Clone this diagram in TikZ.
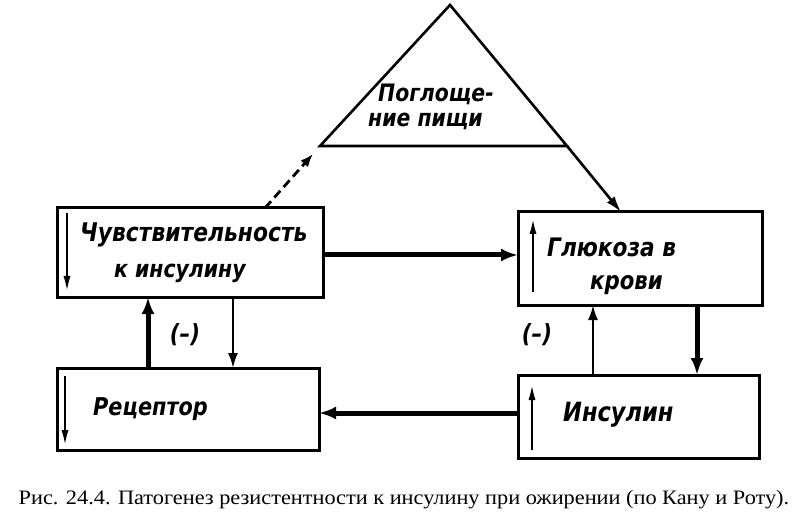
\documentclass[tikz,border=0pt]{standalone}
\usepackage{fontspec}
\setmainfont{Liberation Serif}
\newfontfamily\hand[FakeStretch=0.85]{DejaVu Sans}
\usetikzlibrary{arrows.meta}
\begin{document}
\begin{tikzpicture}[x=1pt,y=-1pt,
  box/.style={draw,line width=3pt,minimum width=#1,inner sep=0pt,outer sep=0pt},
  lbl/.style={font=\hand\bfseries\itshape\fontsize{#1}{26}\selectfont,inner sep=0pt,align=center},
  lbl/.default=24.5,
  thickarr/.style={line width=5pt,-{Latex[length=17pt,width=13pt]}},
  thinarr/.style={line width=2.2pt,-{Latex[length=15pt,width=10pt]}},
  innerarr/.style={line width=2.6pt,-{Latex[length=17pt,width=7pt]}},
  minus/.style={font=\hand\bfseries\itshape\fontsize{25}{26}\selectfont,inner sep=0pt}]
\useasboundingbox (0,0) rectangle (800,529);
% boxes
\node[box=266pt,minimum height=89pt] (sens) at (190,252.5) {};
\node[box=262pt,minimum height=82pt] (rec) at (188,409) {};
\node[box=244pt,minimum height=93pt] (glu) at (640,258.5) {};
\node[box=241pt,minimum height=83pt] (ins) at (638.5,416.5) {};
% texts
\node[lbl=25.7,anchor=base west] (tsens) at (80,242) {Чувствительность};
\node[lbl=24,anchor=base west] (tsens2) at (114,277) {к инсулину};
\node[lbl=25.5,anchor=base west] (tglu) at (547,257) {Глюкоза в};
\node[lbl=25,anchor=base west] (tglu2) at (590,290) {крови};
\node[lbl=24.5,anchor=base west] (trec) at (93,415) {Рецептор};
\node[lbl=26.5,anchor=base west] (tins) at (563,421) {Инсулин};
\node[lbl=24,anchor=base west] (tfood) at (378,102) {Поглоще-};
\node[lbl=24,anchor=base west] (tfood2) at (368,127) {ние пищи};
\node[minus] (m1) at (185,335) {(–)};
\node[minus] (m2) at (537,335) {(–)};
% triangle
\coordinate (apex) at (450,5);
\coordinate (lb) at (320,146);
\coordinate (rb) at (567,146);
\coordinate (tipR) at (621,212);
\coordinate (dshEnd) at (313,154);
\draw[line width=2.6pt,line join=miter] (lb) -- (apex) -- (rb) -- cycle;
\draw[line width=2.6pt,-{Latex[length=16pt,width=10pt]}] (rb) -- (tipR);
\draw[line width=2.8pt,dash pattern=on 9pt off 5pt,-{Latex[length=13pt,width=10pt]}]
  ([xshift=75pt]sens.north) -- (dshEnd);
% connectors
\draw[thickarr] ([yshift=-2.5pt]sens.east) -- ([yshift=-2.5pt]sens.east -| glu.west);
\draw[thickarr] ([yshift=3.5pt]ins.west) -- ([yshift=3.5pt]ins.west -| rec.east);
\draw[thickarr] ([xshift=-40pt]rec.north) -- ([xshift=-42pt]sens.south);
\draw[thinarr] ([xshift=43pt]sens.south) -- ([xshift=45pt]rec.north);
\draw[thinarr] ([xshift=-45.5pt]ins.north) -- ([xshift=-47pt]glu.south);
\draw[thickarr] ([xshift=57pt]glu.south) -- ([xshift=58.5pt]ins.north);
% inner arrows
\draw[innerarr] ([xshift=10pt,yshift=-5pt]sens.north west) -- ([xshift=10pt,yshift=4pt]sens.south west);
\draw[innerarr] ([xshift=8pt,yshift=-8pt]rec.north west) -- ([xshift=8pt,yshift=3pt]rec.south west);
\draw[innerarr] ([xshift=15pt,yshift=13pt]glu.south west) -- ([xshift=15pt,yshift=-5pt]glu.north west);
\draw[innerarr] ([xshift=14pt,yshift=8pt]ins.south west) -- ([xshift=14pt,yshift=-8pt]ins.north west);
% caption
\node[font=\fontsize{20.5}{22}\selectfont,inner sep=0pt,anchor=base] (cap) at (404,504)
  {\scalebox{1.088}[1]{Рис. 24.4. Патогенез резистентности к инсулину при ожирении (по Кану и Роту).}};
\end{tikzpicture}
\end{document}
